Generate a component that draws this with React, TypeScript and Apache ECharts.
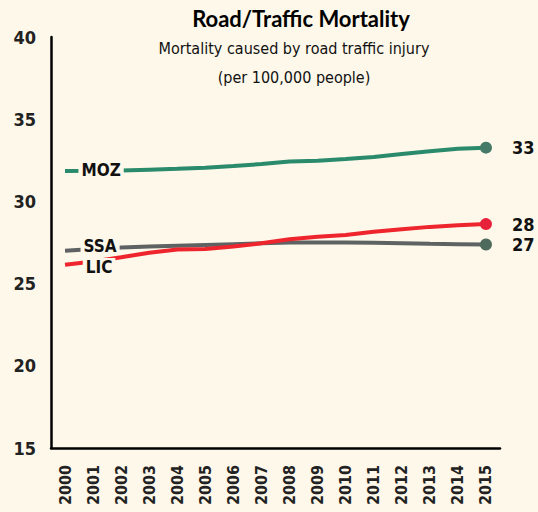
import React, { useEffect, useRef } from "react";
import * as echarts from "echarts";

const years = ["2000","2001","2002","2003","2004","2005","2006","2007","2008","2009","2010","2011","2012","2013","2014","2015"];
const moz = [31.85, 31.86, 31.88, 31.93, 31.98, 32.05, 32.15, 32.27, 32.42, 32.48, 32.58, 32.7, 32.88, 33.05, 33.2, 33.27];
const ssa = [27.0, 27.1, 27.2, 27.25, 27.3, 27.35, 27.4, 27.45, 27.5, 27.5, 27.5, 27.48, 27.45, 27.42, 27.4, 27.38];
const lic = [26.14, 26.35, 26.6, 26.88, 27.07, 27.1, 27.25, 27.45, 27.7, 27.85, 27.95, 28.15, 28.3, 28.45, 28.55, 28.62];
const seriesNames = ["MOZ", "SSA", "LIC"];
const endLabels = ["33", "27", "28"];
const yTicks = { min: 15, max: 40, interval: 5 };

const BG = "#fdf8ea";
const NARROW = '"Liberation Sans Narrow", "DejaVu Sans Condensed", "Roboto Condensed", sans-serif';

export default function App() {
  const ref = useRef<HTMLDivElement>(null);
  useEffect(() => {
    document.body.style.margin = "0";
    const chart = echarts.init(ref.current!, null, { renderer: "svg" });
    const lineColors = ["#2a8a6c", "#5e6262", "#ee252d"];
    const markerColors = ["#457a68", "#4d6a5c", "#e8213a"];
    const startOffsets: [number, number][] = [[8, -1], [7, -3], [6, 6]];
    const datasets = [moz, ssa, lic];
    const series = datasets.map((d, si) => ({
      type: "line",
      name: seriesNames[si],
      z: si === 0 ? 3 : si === 1 ? 2 : 4,
      showAllSymbol: true,
      symbol: "circle",
      symbolSize: (_v: any, p: any) => (p.dataIndex === d.length - 1 ? 12 : 0),
      lineStyle: { color: lineColors[si], width: 4 },
      itemStyle: { color: markerColors[si] },
      data: d.map((v, i) => {
        if (i === 1) {
          return {
            value: v,
            label: {
              show: true,
              position: "inside",
              offset: startOffsets[si],
              formatter: seriesNames[si],
              fontFamily: NARROW,
              fontWeight: "bold",
              fontSize: 17,
              color: "#111",
              backgroundColor: BG,
              padding: [1, 3],
            },
          };
        }
        if (i === d.length - 1) {
          return {
            value: v,
            label: {
              show: true,
              position: "right",
              distance: 20,
              formatter: endLabels[si],
              fontFamily: NARROW,
              fontWeight: "bold",
              fontSize: 18,
              color: "#111",
            },
          };
        }
        return v;
      }),
    }));

    chart.setOption({
      animation: false,
      backgroundColor: BG,
      grid: { left: 51, right: 38, top: 37, bottom: 64, containLabel: false },
      xAxis: {
        type: "category",
        data: years,
        boundaryGap: true,
        axisLine: { show: true, lineStyle: { color: "#000", width: 2.5 } },
        axisTick: { show: false },
        axisLabel: {
          rotate: 90,
          margin: 17,
          fontFamily: NARROW,
          fontWeight: "bold",
          fontSize: 16,
          color: "#222",
          interval: 0,
        },
        splitLine: { show: false },
      },
      yAxis: {
        type: "value",
        min: yTicks.min,
        max: yTicks.max,
        interval: yTicks.interval,
        axisLine: { show: true, lineStyle: { color: "#000", width: 2.5 } },
        axisTick: { show: false },
        axisLabel: {
          margin: 15,
          fontFamily: NARROW,
          fontWeight: "bold",
          fontSize: 18,
          color: "#222",
        },
        splitLine: { show: false },
      },
      graphic: [
        {
          type: "text",
          x: 301,
          y: 18,
          style: {
            text: "Road/Traffic Mortality",
            font: 'bold 22px Lato, "Open Sans", sans-serif',
            fill: "#000",
            align: "center",
            verticalAlign: "middle",
          },
        },
        {
          type: "text",
          x: 294,
          y: 48,
          style: {
            text: "Mortality caused by road traffic injury",
            font: `16px ${NARROW}`,
            fill: "#111",
            align: "center",
            verticalAlign: "middle",
          },
        },
        {
          type: "text",
          x: 294,
          y: 77,
          style: {
            text: "(per 100,000 people)",
            font: `16px ${NARROW}`,
            fill: "#111",
            align: "center",
            verticalAlign: "middle",
          },
        },
      ],
      series,
    });
    return () => chart.dispose();
  }, []);
  return (
    <div
      ref={ref}
      style={{ position: "fixed", left: 0, top: 0, width: 538, height: 512 }}
    />
  );
}
